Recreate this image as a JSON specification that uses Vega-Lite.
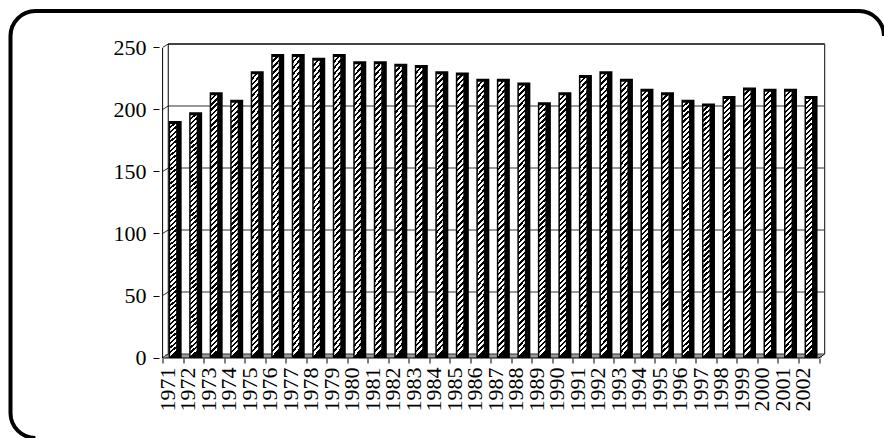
{
  "$schema": "https://vega.github.io/schema/vega-lite/v6.json",
  "width": 873.5,
  "height": 427,
  "autosize": "none",
  "padding": {"left": 10.5, "top": 11, "right": 0, "bottom": 0},
  "background": "white",
  "config": {
    "view": {"stroke": "black", "strokeWidth": 4, "cornerRadius": 25, "fill": "white", "strokeDash": [862.77, 1239.77, 456, 200]},
    "font": "Liberation Serif"
  },
  "datasets": {
    "bars": [
      {"year": 1971, "value": 188}, {"year": 1972, "value": 195}, {"year": 1973, "value": 211},
      {"year": 1974, "value": 205}, {"year": 1975, "value": 228}, {"year": 1976, "value": 242},
      {"year": 1977, "value": 242}, {"year": 1978, "value": 239}, {"year": 1979, "value": 242},
      {"year": 1980, "value": 236}, {"year": 1981, "value": 236}, {"year": 1982, "value": 234},
      {"year": 1983, "value": 233}, {"year": 1984, "value": 228}, {"year": 1985, "value": 227},
      {"year": 1986, "value": 222}, {"year": 1987, "value": 222}, {"year": 1988, "value": 219},
      {"year": 1989, "value": 203}, {"year": 1990, "value": 211}, {"year": 1991, "value": 225},
      {"year": 1992, "value": 228}, {"year": 1993, "value": 222}, {"year": 1994, "value": 214},
      {"year": 1995, "value": 211}, {"year": 1996, "value": 205}, {"year": 1997, "value": 202},
      {"year": 1998, "value": 208}, {"year": 1999, "value": 215}, {"year": 2000, "value": 214},
      {"year": 2001, "value": 214}, {"year": 2002, "value": 208}
    ],
    "grid": [{"g": 0}, {"g": 50}, {"g": 100}, {"g": 150}, {"g": 200}, {"g": 250}],
    "one": [{}]
  },
  "layer": [
    {
      "data": {"name": "bars"},
      "mark": {"type": "bar", "fill": "black", "width": 13, "opacity": 0},
      "encoding": {
        "x": {
          "field": "year", "type": "quantitative",
          "scale": {"domain": [1963.217, 2005.313], "nice": false, "zero": false},
          "axis": {
            "values": [1970.388, 1971.388, 1972.388, 1973.388, 1974.388, 1975.388, 1976.388, 1977.388, 1978.388, 1979.388, 1980.388, 1981.388, 1982.388, 1983.388, 1984.388, 1985.388, 1986.388, 1987.388, 1988.388, 1989.388, 1990.388, 1991.388, 1992.388, 1993.388, 1994.388, 1995.388, 1996.388, 1997.388, 1998.388, 1999.388, 2000.388, 2001.388, 2002.388],
            "tickCount": 50,
            "offset": -80,
            "domain": false,
            "grid": false,
            "ticks": true,
            "tickSize": 5,
            "tickColor": "black",
            "tickWidth": 1,
            "labelAngle": 270,
            "labelAlign": "right",
            "labelBaseline": "middle",
            "labelOffset": 4.5,
            "labelPadding": 4,
            "labelExpr": "datum.value > 2002 ? '' : '' + (floor(datum.value) + 1)",
            "labelFont": "Liberation Serif",
            "labelFontSize": 22,
            "labelColor": "black",
            "labelFlush": false,
            "labelOverlap": false,
            "labelBound": false,
            "title": null
          }
        },
        "y": {
          "field": "value", "type": "quantitative",
          "scale": {"domain": [-67.74, 276.61], "nice": false, "zero": false},
          "axis": {
            "values": [0, 50, 100, 150, 200, 250],
            "tickCount": 10,
            "offset": -148.5,
            "domain": false,
            "grid": false,
            "ticks": true,
            "tickSize": 6,
            "tickColor": "black",
            "tickWidth": 1,
            "tickOffset": 3.5,
            "labelFont": "Liberation Serif",
            "labelFontSize": 22,
            "labelColor": "black",
            "labelPadding": 7,
            "labelFlush": false,
            "labelOverlap": false,
            "labelBound": false,
            "title": null
          }
        },
        "y2": {"datum": -3.23}
      }
    },
    {
      "data": {"name": "one"},
      "mark": {"type": "rect", "fill": "#9a9a9a"},
      "encoding": {
        "x": {"datum": 1970.52, "type": "quantitative"},
        "x2": {"datum": 2002.52},
        "y": {"datum": 0, "type": "quantitative"},
        "y2": {"datum": -3.23}
      }
    },
    {
      "data": {"name": "grid"},
      "mark": {"type": "rule", "color": "#333333", "strokeWidth": 1.2},
      "encoding": {
        "x": {"datum": 1970.663, "type": "quantitative"},
        "x2": {"datum": 2002.663},
        "y": {"field": "g", "type": "quantitative"}
      }
    },
    {
      "data": {"name": "grid"},
      "mark": {"type": "rule", "color": "#333333", "strokeWidth": 1, "yOffset": 3.5},
      "encoding": {
        "x": {"datum": 1970.388, "type": "quantitative"},
        "x2": {"datum": 1970.663},
        "y": {"field": "g", "type": "quantitative"},
        "y2": {"field": "g"}
      }
    },
    {
      "data": {"name": "one"},
      "mark": {"type": "rule", "color": "#444444", "strokeWidth": 2},
      "encoding": {
        "x": {"datum": 1970.663, "type": "quantitative"},
        "x2": {"datum": 2002.663},
        "y": {"datum": 250, "type": "quantitative"}
      }
    },
    {
      "data": {"name": "one"},
      "mark": {"type": "rule", "color": "black", "strokeWidth": 1},
      "encoding": {
        "x": {"datum": 1970.388, "type": "quantitative"},
        "y": {"datum": -3.23, "type": "quantitative"},
        "y2": {"datum": 246.77}
      }
    },
    {
      "data": {"name": "one"},
      "mark": {"type": "rule", "color": "black", "strokeWidth": 1},
      "encoding": {
        "x": {"datum": 1970.663, "type": "quantitative"},
        "y": {"datum": 0, "type": "quantitative"},
        "y2": {"datum": 250}
      }
    },
    {
      "data": {"name": "one"},
      "mark": {"type": "rule", "color": "#333333", "strokeWidth": 1.2},
      "encoding": {
        "x": {"datum": 2002.663, "type": "quantitative"},
        "y": {"datum": 0, "type": "quantitative"},
        "y2": {"datum": 250}
      }
    },
    {
      "data": {"name": "one"},
      "mark": {"type": "rule", "color": "black", "strokeWidth": 1},
      "encoding": {
        "x": {"datum": 1970.388, "type": "quantitative"},
        "x2": {"datum": 2002.388},
        "y": {"datum": -3.23, "type": "quantitative"}
      }
    },
    {
      "data": {"name": "one"},
      "mark": {"type": "rule", "color": "black", "strokeWidth": 1},
      "encoding": {
        "x": {"datum": 2002.388, "type": "quantitative"},
        "x2": {"datum": 2002.663},
        "y": {"datum": -3.23, "type": "quantitative"},
        "y2": {"datum": 0}
      }
    },
    {
      "data": {"name": "bars"},
      "mark": {"type": "bar", "fill": "black", "width": 13},
      "encoding": {
        "x": {"field": "year", "type": "quantitative"},
        "y": {"field": "value", "type": "quantitative"},
        "y2": {"datum": -3.23}
      }
    },
    {
      "data": {"name": "bars"},
      "mark": {
        "type": "bar", "width": 6, "xOffset": -2, "yOffset": 3,
        "fill": {
          "gradient": "linear", "x1": 0, "y1": 0, "x2": 0.0226, "y2": 1,
          "stops": [
            {"offset": 0, "color": "#fff"}, {"offset": 0.011, "color": "#fff"}, {"offset": 0.011, "color": "#000"}, {"offset": 0.02, "color": "#000"},
            {"offset": 0.02, "color": "#fff"}, {"offset": 0.031, "color": "#fff"}, {"offset": 0.031, "color": "#000"}, {"offset": 0.04, "color": "#000"},
            {"offset": 0.04, "color": "#fff"}, {"offset": 0.051, "color": "#fff"}, {"offset": 0.051, "color": "#000"}, {"offset": 0.06, "color": "#000"},
            {"offset": 0.06, "color": "#fff"}, {"offset": 0.071, "color": "#fff"}, {"offset": 0.071, "color": "#000"}, {"offset": 0.08, "color": "#000"},
            {"offset": 0.08, "color": "#fff"}, {"offset": 0.091, "color": "#fff"}, {"offset": 0.091, "color": "#000"}, {"offset": 0.1, "color": "#000"},
            {"offset": 0.1, "color": "#fff"}, {"offset": 0.111, "color": "#fff"}, {"offset": 0.111, "color": "#000"}, {"offset": 0.12, "color": "#000"},
            {"offset": 0.12, "color": "#fff"}, {"offset": 0.131, "color": "#fff"}, {"offset": 0.131, "color": "#000"}, {"offset": 0.14, "color": "#000"},
            {"offset": 0.14, "color": "#fff"}, {"offset": 0.151, "color": "#fff"}, {"offset": 0.151, "color": "#000"}, {"offset": 0.16, "color": "#000"},
            {"offset": 0.16, "color": "#fff"}, {"offset": 0.171, "color": "#fff"}, {"offset": 0.171, "color": "#000"}, {"offset": 0.18, "color": "#000"},
            {"offset": 0.18, "color": "#fff"}, {"offset": 0.191, "color": "#fff"}, {"offset": 0.191, "color": "#000"}, {"offset": 0.2, "color": "#000"},
            {"offset": 0.2, "color": "#fff"}, {"offset": 0.211, "color": "#fff"}, {"offset": 0.211, "color": "#000"}, {"offset": 0.22, "color": "#000"},
            {"offset": 0.22, "color": "#fff"}, {"offset": 0.231, "color": "#fff"}, {"offset": 0.231, "color": "#000"}, {"offset": 0.24, "color": "#000"},
            {"offset": 0.24, "color": "#fff"}, {"offset": 0.251, "color": "#fff"}, {"offset": 0.251, "color": "#000"}, {"offset": 0.26, "color": "#000"},
            {"offset": 0.26, "color": "#fff"}, {"offset": 0.271, "color": "#fff"}, {"offset": 0.271, "color": "#000"}, {"offset": 0.28, "color": "#000"},
            {"offset": 0.28, "color": "#fff"}, {"offset": 0.291, "color": "#fff"}, {"offset": 0.291, "color": "#000"}, {"offset": 0.3, "color": "#000"},
            {"offset": 0.3, "color": "#fff"}, {"offset": 0.311, "color": "#fff"}, {"offset": 0.311, "color": "#000"}, {"offset": 0.32, "color": "#000"},
            {"offset": 0.32, "color": "#fff"}, {"offset": 0.331, "color": "#fff"}, {"offset": 0.331, "color": "#000"}, {"offset": 0.34, "color": "#000"},
            {"offset": 0.34, "color": "#fff"}, {"offset": 0.351, "color": "#fff"}, {"offset": 0.351, "color": "#000"}, {"offset": 0.36, "color": "#000"},
            {"offset": 0.36, "color": "#fff"}, {"offset": 0.371, "color": "#fff"}, {"offset": 0.371, "color": "#000"}, {"offset": 0.38, "color": "#000"},
            {"offset": 0.38, "color": "#fff"}, {"offset": 0.391, "color": "#fff"}, {"offset": 0.391, "color": "#000"}, {"offset": 0.4, "color": "#000"},
            {"offset": 0.4, "color": "#fff"}, {"offset": 0.411, "color": "#fff"}, {"offset": 0.411, "color": "#000"}, {"offset": 0.42, "color": "#000"},
            {"offset": 0.42, "color": "#fff"}, {"offset": 0.431, "color": "#fff"}, {"offset": 0.431, "color": "#000"}, {"offset": 0.44, "color": "#000"},
            {"offset": 0.44, "color": "#fff"}, {"offset": 0.451, "color": "#fff"}, {"offset": 0.451, "color": "#000"}, {"offset": 0.46, "color": "#000"},
            {"offset": 0.46, "color": "#fff"}, {"offset": 0.471, "color": "#fff"}, {"offset": 0.471, "color": "#000"}, {"offset": 0.48, "color": "#000"},
            {"offset": 0.48, "color": "#fff"}, {"offset": 0.491, "color": "#fff"}, {"offset": 0.491, "color": "#000"}, {"offset": 0.5, "color": "#000"},
            {"offset": 0.5, "color": "#fff"}, {"offset": 0.511, "color": "#fff"}, {"offset": 0.511, "color": "#000"}, {"offset": 0.52, "color": "#000"},
            {"offset": 0.52, "color": "#fff"}, {"offset": 0.531, "color": "#fff"}, {"offset": 0.531, "color": "#000"}, {"offset": 0.54, "color": "#000"},
            {"offset": 0.54, "color": "#fff"}, {"offset": 0.551, "color": "#fff"}, {"offset": 0.551, "color": "#000"}, {"offset": 0.56, "color": "#000"},
            {"offset": 0.56, "color": "#fff"}, {"offset": 0.571, "color": "#fff"}, {"offset": 0.571, "color": "#000"}, {"offset": 0.58, "color": "#000"},
            {"offset": 0.58, "color": "#fff"}, {"offset": 0.591, "color": "#fff"}, {"offset": 0.591, "color": "#000"}, {"offset": 0.6, "color": "#000"},
            {"offset": 0.6, "color": "#fff"}, {"offset": 0.611, "color": "#fff"}, {"offset": 0.611, "color": "#000"}, {"offset": 0.62, "color": "#000"},
            {"offset": 0.62, "color": "#fff"}, {"offset": 0.631, "color": "#fff"}, {"offset": 0.631, "color": "#000"}, {"offset": 0.64, "color": "#000"},
            {"offset": 0.64, "color": "#fff"}, {"offset": 0.651, "color": "#fff"}, {"offset": 0.651, "color": "#000"}, {"offset": 0.66, "color": "#000"},
            {"offset": 0.66, "color": "#fff"}, {"offset": 0.671, "color": "#fff"}, {"offset": 0.671, "color": "#000"}, {"offset": 0.68, "color": "#000"},
            {"offset": 0.68, "color": "#fff"}, {"offset": 0.691, "color": "#fff"}, {"offset": 0.691, "color": "#000"}, {"offset": 0.7, "color": "#000"},
            {"offset": 0.7, "color": "#fff"}, {"offset": 0.711, "color": "#fff"}, {"offset": 0.711, "color": "#000"}, {"offset": 0.72, "color": "#000"},
            {"offset": 0.72, "color": "#fff"}, {"offset": 0.731, "color": "#fff"}, {"offset": 0.731, "color": "#000"}, {"offset": 0.74, "color": "#000"},
            {"offset": 0.74, "color": "#fff"}, {"offset": 0.751, "color": "#fff"}, {"offset": 0.751, "color": "#000"}, {"offset": 0.76, "color": "#000"},
            {"offset": 0.76, "color": "#fff"}, {"offset": 0.771, "color": "#fff"}, {"offset": 0.771, "color": "#000"}, {"offset": 0.78, "color": "#000"},
            {"offset": 0.78, "color": "#fff"}, {"offset": 0.791, "color": "#fff"}, {"offset": 0.791, "color": "#000"}, {"offset": 0.8, "color": "#000"},
            {"offset": 0.8, "color": "#fff"}, {"offset": 0.811, "color": "#fff"}, {"offset": 0.811, "color": "#000"}, {"offset": 0.82, "color": "#000"},
            {"offset": 0.82, "color": "#fff"}, {"offset": 0.831, "color": "#fff"}, {"offset": 0.831, "color": "#000"}, {"offset": 0.84, "color": "#000"},
            {"offset": 0.84, "color": "#fff"}, {"offset": 0.851, "color": "#fff"}, {"offset": 0.851, "color": "#000"}, {"offset": 0.86, "color": "#000"},
            {"offset": 0.86, "color": "#fff"}, {"offset": 0.871, "color": "#fff"}, {"offset": 0.871, "color": "#000"}, {"offset": 0.88, "color": "#000"},
            {"offset": 0.88, "color": "#fff"}, {"offset": 0.891, "color": "#fff"}, {"offset": 0.891, "color": "#000"}, {"offset": 0.9, "color": "#000"},
            {"offset": 0.9, "color": "#fff"}, {"offset": 0.911, "color": "#fff"}, {"offset": 0.911, "color": "#000"}, {"offset": 0.92, "color": "#000"},
            {"offset": 0.92, "color": "#fff"}, {"offset": 0.931, "color": "#fff"}, {"offset": 0.931, "color": "#000"}, {"offset": 0.94, "color": "#000"},
            {"offset": 0.94, "color": "#fff"}, {"offset": 0.951, "color": "#fff"}, {"offset": 0.951, "color": "#000"}, {"offset": 0.96, "color": "#000"},
            {"offset": 0.96, "color": "#fff"}, {"offset": 0.971, "color": "#fff"}, {"offset": 0.971, "color": "#000"}, {"offset": 0.98, "color": "#000"},
            {"offset": 0.98, "color": "#fff"}, {"offset": 0.991, "color": "#fff"}, {"offset": 0.991, "color": "#000"}, {"offset": 1, "color": "#000"}
          ]
        }
      },
      "encoding": {
        "x": {"field": "year", "type": "quantitative"},
        "y": {"field": "value", "type": "quantitative"},
        "y2": {"datum": -3.23}
      }
    }
  ]
}
